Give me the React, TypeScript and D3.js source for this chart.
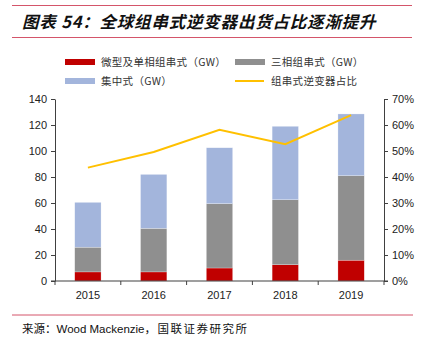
import React, { useEffect, useRef } from "react";
import * as d3 from "d3";

const years = ["2015", "2016", "2017", "2018", "2019"];
const microSingle = [7, 7, 10, 12.5, 16];
const threePhase = [19, 33.5, 49.5, 50, 65];
const central = [34.5, 41.5, 43, 56.5, 47.5];
const stringShare = [0.436, 0.496, 0.582, 0.526, 0.638];
const leftTicks = [0, 20, 40, 60, 80, 100, 120, 140];
const rightTicks = [0, 0.1, 0.2, 0.3, 0.4, 0.5, 0.6, 0.7];

const seriesNames = ["微型及单相组串式（GW）", "三相组串式（GW）", "集中式（GW）", "组串式逆变器占比"];
const colors = ["#c00000", "#8f8f8f", "#a3b5dc", "#ffc000"];

const W = 421;
const H = 353;
const plot = { left: 55, right: 384, top: 99, bottom: 281 };
const cjk = "'Noto Sans CJK SC', sans-serif";
const latin = "'Liberation Sans', Arial, sans-serif";

const App: React.FC = () => {
  const svgRef = useRef<SVGSVGElement>(null);

  useEffect(() => {
    const svg = d3.select(svgRef.current);
    svg.selectAll("*").remove();

    // header / footer rules
    const ruleColor = "#d4556a";
    svg.append("line").attr("x1", 12).attr("x2", 412).attr("y1", 5.5).attr("y2", 5.5)
      .attr("stroke", ruleColor).attr("stroke-width", 1.2);
    svg.append("line").attr("x1", 12).attr("x2", 412).attr("y1", 37.5).attr("y2", 37.5)
      .attr("stroke", ruleColor).attr("stroke-width", 1.2);
    svg.append("line").attr("x1", 12).attr("x2", 413).attr("y1", 315).attr("y2", 315)
      .attr("stroke", ruleColor).attr("stroke-width", 1);

    svg.append("text").attr("x", 22).attr("y", 28)
      .attr("font-family", cjk).attr("font-size", 16.5).attr("font-weight", "bold")
      .attr("font-style", "italic").attr("fill", "#111").attr("letter-spacing", 0.8)
      .text("图表 54：全球组串式逆变器出货占比逐渐提升");

    const src = svg.append("text").attr("x", 22).attr("y", 333)
      .attr("font-size", 11.5).attr("fill", "#111");
    src.append("tspan").attr("font-family", cjk).text("来源：");
    src.append("tspan").attr("font-family", latin).text("Wood Mackenzie");
    src.append("tspan").attr("font-family", cjk).attr("letter-spacing", 1.5).text("，国联证券研究所");

    const x = d3.scaleBand().domain(years).range([plot.left, plot.right]).paddingInner(0).paddingOuter(0);
    const y = d3.scaleLinear().domain([0, 140]).range([plot.bottom, plot.top]);
    const yr = d3.scaleLinear().domain([0, 0.7]).range([plot.bottom, plot.top]);

    const rows = years.map((yr, i) => ({
      year: yr,
      micro: microSingle[i],
      three: threePhase[i],
      central: central[i],
    }));
    const stack = d3.stack<any>().keys(["micro", "three", "central"])(rows);

    const barW = x.bandwidth() * 0.4;
    const g = svg.append("g");
    stack.forEach((layer, li) => {
      g.selectAll(`.bar${li}`)
        .data(layer)
        .enter()
        .append("rect")
        .attr("x", (d: any) => (x(d.data.year) as number) + (x.bandwidth() - barW) / 2)
        .attr("y", (d) => y(d[1]))
        .attr("width", barW)
        .attr("height", (d) => y(d[0]) - y(d[1]))
        .attr("fill", colors[li])
        .attr("stroke", "#fff")
        .attr("stroke-opacity", 0.5)
        .attr("stroke-width", 0.5);
    });

    // share line
    const line = d3.line<number>()
      .x((_, i) => (x(years[i]) as number) + x.bandwidth() / 2)
      .y((d) => yr(d));
    svg.append("path").datum(stringShare).attr("d", line)
      .attr("fill", "none").attr("stroke", colors[3]).attr("stroke-width", 2);

    const axisColor = "#404040";
    const styleAxis = (sel: any) => {
      sel.selectAll("line").attr("stroke", axisColor);
      sel.select(".domain").attr("stroke", axisColor);
      sel.selectAll("text").attr("fill", "#222").attr("font-family", latin).attr("font-size", 11);
    };

    svg.append("g").attr("transform", `translate(${plot.left},0)`)
      .call(d3.axisLeft(y).tickValues(leftTicks).tickSize(4).tickSizeOuter(0).tickPadding(4))
      .call(styleAxis);

    svg.append("g").attr("transform", `translate(${plot.right},0)`)
      .call(d3.axisRight(yr).tickValues(rightTicks).tickSize(4).tickSizeOuter(0).tickPadding(4)
        .tickFormat(d3.format(".0%")))
      .call(styleAxis);

    // x axis: baseline plus ticks at category boundaries
    const xa = svg.append("g").attr("transform", `translate(0,${plot.bottom})`);
    xa.append("line").attr("x1", plot.left - 4).attr("x2", plot.right + 4)
      .attr("stroke", axisColor).attr("stroke-width", 1.2);
    const bounds = [...years.map((d) => x(d) as number), plot.right];
    xa.selectAll(".xt").data(bounds).enter().append("line")
      .attr("x1", (d) => d).attr("x2", (d) => d).attr("y1", 0).attr("y2", 4)
      .attr("stroke", axisColor);
    xa.selectAll(".xl").data(years).enter().append("text")
      .attr("x", (d) => (x(d) as number) + x.bandwidth() / 2)
      .attr("y", 18).attr("text-anchor", "middle")
      .attr("font-family", latin).attr("font-size", 11).attr("fill", "#222")
      .text((d) => d);

    // legend
    const legendPos = [
      { x: 65, y: 62 },
      { x: 235, y: 62 },
      { x: 65, y: 81 },
      { x: 235, y: 81 },
    ];
    legendPos.forEach((p, i) => {
      const lg = svg.append("g").attr("transform", `translate(${p.x},${p.y})`);
      if (i === 3) {
        lg.append("line").attr("x1", 0).attr("x2", 29).attr("y1", 0).attr("y2", 0)
          .attr("stroke", colors[i]).attr("stroke-width", 2);
      } else {
        lg.append("rect").attr("x", 0).attr("y", -3).attr("width", 30).attr("height", 6)
          .attr("fill", colors[i]);
      }
      lg.append("text").attr("x", 36).attr("y", 4)
        .attr("font-family", cjk).attr("font-size", 10.5).attr("fill", "#333")
        .attr("letter-spacing", 0.3)
        .text(seriesNames[i]);
    });
  }, []);

  return (
    <svg
      ref={svgRef}
      width={W}
      height={H}
      style={{ position: "absolute", left: 0, top: 0, background: "#fff" }}
    ></svg>
  );
};

export default App;
